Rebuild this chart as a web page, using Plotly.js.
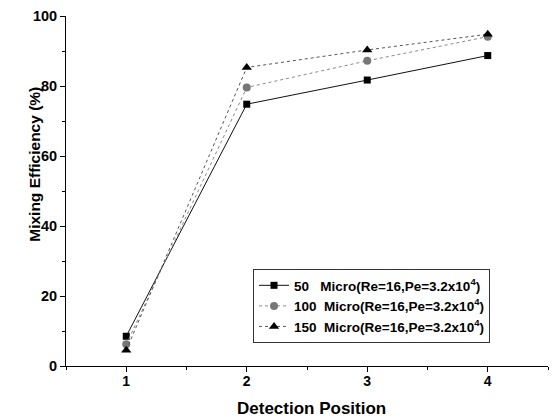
<!DOCTYPE html>
<html><head><meta charset="utf-8">
<script src="https://cdn.plot.ly/plotly-3.0.1.min.js"></script>
<style>body{margin:0;background:#fff}#c{width:555px;height:419px}</style>
</head><body><div id="c"></div>
<script>
const positions = [1, 2, 3, 4];
const names = [
  "50   Micro(Re=16,Pe=3.2x10<sup>4</sup>)",
  "100  Micro(Re=16,Pe=3.2x10<sup>4</sup>)",
  "150  Micro(Re=16,Pe=3.2x10<sup>4</sup>)"
];
const eff50 = [8.5, 74.8, 81.7, 88.7];
const eff100 = [6.2, 79.6, 87.2, 94.1];
const eff150 = [4.5, 85.3, 90.3, 94.8];

const font = {family: "Liberation Sans, Arial, sans-serif", color: "#000"};
const traces = [
  {x: positions, y: eff50, name: names[0], mode: "lines+markers",
   line: {color: "#111", width: 1, dash: "solid"},
   marker: {symbol: "square", size: 7, color: "#000"}},
  {x: positions, y: eff100, name: names[1], mode: "lines+markers",
   line: {color: "#888", width: 1, dash: "dot"},
   marker: {symbol: "circle", size: 8, color: "#777"}},
  {x: positions, y: eff150, name: names[2], mode: "lines+markers",
   line: {color: "#555", width: 1, dash: "dot"},
   marker: {symbol: "triangle-up", size: 9, color: "#000"}}
];
const layout = {
  width: 555, height: 419,
  margin: {l: 66, r: 7, t: 16, b: 53},
  paper_bgcolor: "#fff", plot_bgcolor: "#fff",
  showlegend: true,
  legend: {x: 0.388, y: 0.277, xanchor: "left", yanchor: "top",
    bordercolor: "#333", borderwidth: 1, bgcolor: "#fff",
    font: {family: font.family, size: 13.5, color: "#000", weight: "bold"},
    tracegroupgap: 0, itemwidth: 30},
  xaxis: {range: [0.5, 4.5], tickvals: positions, ticktext: ["1","2","3","4"],
    showgrid: false, zeroline: false, showline: true, linecolor: "#000", linewidth: 1,
    ticks: "outside", ticklen: 5, tickcolor: "#000", ticklabelstandoff: -3,
    minor: {dtick: 0.5, tick0: 0.5, ticks: "outside", ticklen: 3, tickcolor: "#000", showgrid: false},
    tickfont: {family: font.family, size: 14, color: "#000", weight: "bold"}},
  yaxis: {range: [0, 100], dtick: 20, showgrid: false, zeroline: false,
    showline: true, linecolor: "#000", linewidth: 1,
    ticks: "outside", ticklen: 5, tickcolor: "#000",
    minor: {dtick: 10, ticks: "outside", ticklen: 3, tickcolor: "#000", showgrid: false},
    tickfont: {family: font.family, size: 14.5, color: "#000", weight: "bold"}},
  annotations: [
    {text: "Mixing Efficiency (%)", textangle: -90, showarrow: false,
     xref: "paper", yref: "paper", x: 0, xshift: -31, y: 0.575, xanchor: "center", yanchor: "middle",
     font: {family: font.family, size: 15.5, color: "#000", weight: "bold"}},
    {text: "Detection Position", showarrow: false,
     xref: "paper", yref: "paper", x: 0.51, y: 0, yshift: -42, xanchor: "center", yanchor: "middle",
     font: {family: font.family, size: 17, color: "#000", weight: "bold"}}
  ]
};
Plotly.newPlot("c", traces, layout, {displayModeBar: false, staticPlot: true});
</script>
</body></html>
